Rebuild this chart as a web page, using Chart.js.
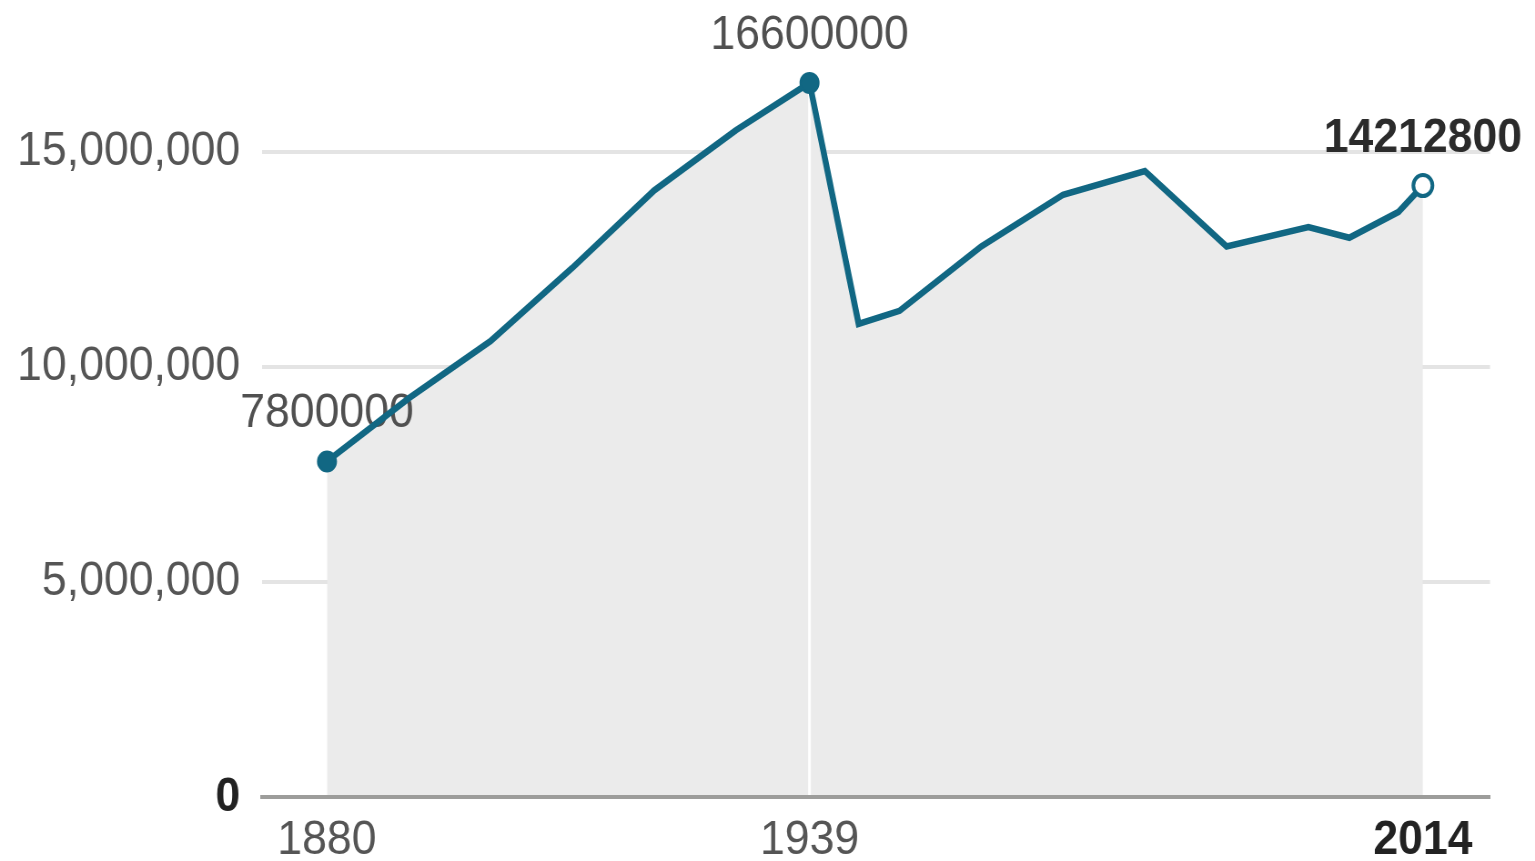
<!DOCTYPE html>
<html>
<head>
<meta charset="utf-8">
<script src="https://cdn.jsdelivr.net/npm/chart.js@4/dist/chart.umd.min.js"></script>
<style>
  html, body { margin: 0; padding: 0; background: #fff; overflow: hidden; }
  /* the chart is laid out a little wider and squeezed back to 1535px */
  #wrap { width: 1687px; height: 861px; transform: scaleX(0.9099); transform-origin: 0 0; }
  canvas { display: block; }
</style>
</head>
<body>
<div id="wrap"><canvas id="chart" width="1687" height="861"></canvas></div>
<script>
// Population by year
const years = [1880, 1890, 1900, 1910, 1920, 1930, 1939, 1945, 1950, 1960, 1970, 1980, 1990, 2000, 2005, 2011, 2014];
const population = [7800000, 9270000, 10600000, 12300000, 14100000, 15500000, 16600000, 11000000, 11300000, 12800000, 14000000, 14550000, 12800000, 13250000, 13000000, 13600000, 14212800];

// Years that get a marker and a value label
const labelledYears = [1880, 1939, 2014];
// Axis ticks
const xTickYears = [1880, 1939, 2014];
const yTickValues = [0, 5000000, 10000000, 15000000];
// Year marked with a white divider through the area
const dividerYear = 1939;

const FONT = '"Liberation Sans", Arial, sans-serif';
const TEAL = '#116783';
const lastYear = years[years.length - 1];

const points = years.map((yr, i) => ({ x: yr, y: population[i] }));
const dividerValue = population[years.indexOf(dividerYear)];

const isMarked = i => labelledYears.includes(years[i]);
const isLast = i => years[i] === lastYear;

const valueLabels = {
  id: 'valueLabels',
  beforeDatasetsDraw(chart) {
    const meta = chart.getDatasetMeta(0);
    const ctx = chart.ctx;
    ctx.save();
    ctx.textAlign = 'center';
    ctx.textBaseline = 'alphabetic';
    labelledYears.forEach(yr => {
      const i = years.indexOf(yr);
      const pt = meta.data[i];
      const last = yr === lastYear;
      ctx.font = (last ? 'bold ' : '') + '49px ' + FONT;
      ctx.fillStyle = last ? '#2b2b2b' : '#505050';
      ctx.fillText(String(population[i]), pt.x, pt.y - 34);
    });
    ctx.restore();
  }
};

new Chart(document.getElementById('chart'), {
  type: 'line',
  data: {
    datasets: [
      {
        data: points,
        order: 0,
        borderColor: TEAL,
        borderWidth: 6.5,
        backgroundColor: '#ebebeb',
        fill: 'origin',
        tension: 0,
        pointRadius: ctx => isMarked(ctx.dataIndex) ? (isLast(ctx.dataIndex) ? 10.5 : 10) : 0,
        pointHoverRadius: ctx => isMarked(ctx.dataIndex) ? 10 : 0,
        pointBorderWidth: ctx => isLast(ctx.dataIndex) ? 4 : 2,
        pointBackgroundColor: ctx => isLast(ctx.dataIndex) ? '#ffffff' : TEAL,
        pointBorderColor: TEAL
      },
      {
        data: [{ x: dividerYear, y: 0 }, { x: dividerYear, y: dividerValue }],
        order: 1,
        borderColor: '#ffffff',
        borderWidth: 3,
        pointRadius: 0,
        fill: false
      }
    ]
  },
  options: {
    responsive: false,
    devicePixelRatio: 1,
    animation: false,
    layout: { padding: { left: 0, right: 49.5, top: 0, bottom: 0 } },
    plugins: {
      legend: { display: false },
      tooltip: { enabled: false },
      filler: { drawTime: 'beforeDatasetsDraw' }
    },
    scales: {
      x: {
        type: 'linear',
        min: 1872.06,
        max: 2022.2,
        afterBuildTicks: s => { s.ticks = xTickYears.map(v => ({ value: v })); },
        afterFit: s => { s.height = 64; s.paddingLeft = 0; s.paddingRight = 0; },
        grid: { display: false, drawTicks: false },
        border: { display: true, color: '#9d9d9b', width: 4, z: 1 },
        ticks: {
          padding: 19,
          autoSkip: false,
          maxRotation: 0,
          color: ctx => ctx.tick && ctx.tick.value === lastYear ? '#222222' : '#555555',
          font: ctx => ({ family: FONT, size: 49, lineHeight: 1, weight: ctx.tick && ctx.tick.value === lastYear ? 'bold' : 'normal' }),
          callback: v => String(v)
        }
      },
      y: {
        min: 0,
        max: 18190000,
        afterBuildTicks: s => { s.ticks = yTickValues.map(v => ({ value: v })); },
        afterFit: s => { s.width = 288; s.paddingTop = 0; s.paddingBottom = 0; },
        border: { display: false },
        grid: { color: '#e4e4e4', lineWidth: 4, drawTicks: false },
        ticks: {
          padding: 24,
          autoSkip: false,
          color: ctx => ctx.tick && ctx.tick.value === 0 ? '#222222' : '#555555',
          font: ctx => ({ family: FONT, size: 49, weight: ctx.tick && ctx.tick.value === 0 ? 'bold' : 'normal' }),
          callback: v => v.toLocaleString('en-US')
        }
      }
    }
  },
  plugins: [valueLabels]
});
</script>
</body>
</html>
